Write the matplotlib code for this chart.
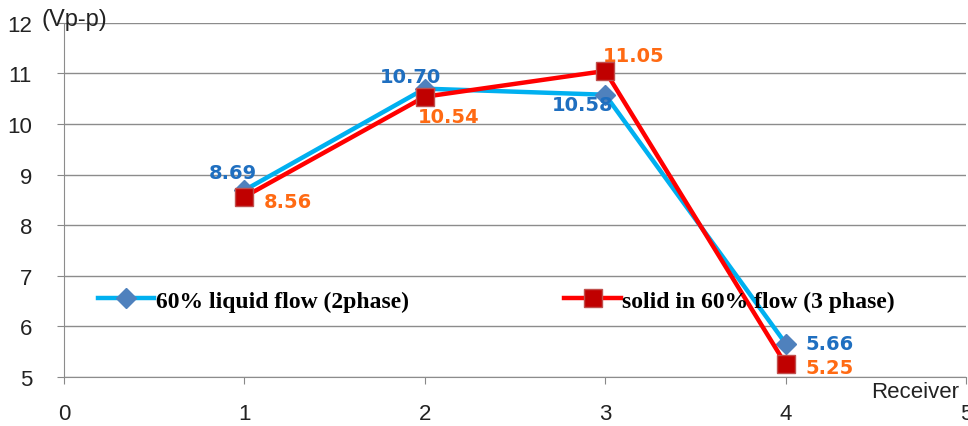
import matplotlib.pyplot as plt

receivers = [1, 2, 3, 4]
liquid_2phase = [8.69, 10.70, 10.58, 5.66]
solid_3phase = [8.56, 10.54, 11.05, 5.25]
series_names = ["60% liquid flow (2phase)", "solid in 60% flow (3 phase)"]

# label offsets in points (dx, dy, ha, va) for each point
liquid_offsets = [(-8, 6, "center", "bottom"), (-10, 2, "center", "bottom"),
                  (-16, -7, "center", "center"), (14, 0, "left", "center")]
solid_offsets = [(14, -3, "left", "center"), (-5, -14, "left", "center"),
                 (-2, 11, "left", "center"), (14, -2, "left", "center")]

plt.rcParams["font.family"] = ["Liberation Sans", "DejaVu Sans"]

fig = plt.figure(figsize=(9.68, 4.27), dpi=100)
ax = fig.add_axes([0.066, 0.115, 0.932, 0.829])

ax.plot(receivers, liquid_2phase, color="#00b0f0", lw=3.2, marker="D", ms=10,
        mfc="#4f81bd", mec="#4f81bd", label=series_names[0], zorder=3)
ax.plot(receivers, solid_3phase, color="#ff0000", lw=3.2, marker="s", ms=13,
        mfc="#c00000", mec="#c0504d", label=series_names[1], zorder=4)

for x, y, (dx, dy, ha, va) in zip(receivers, liquid_2phase, liquid_offsets):
    ax.annotate(f"{y:.2f}", (x, y), xytext=(dx, dy), textcoords="offset points",
                ha=ha, va=va, color="#1f6fc0", fontsize=14, fontweight="bold",
                family="DejaVu Sans")
for x, y, (dx, dy, ha, va) in zip(receivers, solid_3phase, solid_offsets):
    ax.annotate(f"{y:.2f}", (x, y), xytext=(dx, dy), textcoords="offset points",
                ha=ha, va=va, color="#ff6a13", fontsize=14, fontweight="bold",
                family="DejaVu Sans")

ax.set_xlim(0, 5)
ax.set_ylim(5, 12)
ax.set_xticks(range(0, 6))
ax.set_yticks(range(5, 13))
ax.tick_params(axis="both", labelsize=16, colors="#222222", length=5, color="#888888")
ax.tick_params(axis="y", pad=18)
ax.tick_params(axis="x", pad=14)
ax.grid(axis="y", color="#8c8c8c", lw=1)
ax.set_axisbelow(True)
for side in ("top", "right"):
    ax.spines[side].set_visible(False)
for side in ("left", "bottom"):
    ax.spines[side].set_color("#8c8c8c")

ax.text(-0.125, 12.08, "(Vp-p)", fontsize=17, color="#222222", ha="left", va="center")
ax.text(4.96, 4.72, "Receiver", fontsize=16, color="#222222", ha="right", va="center")

ax.legend(loc="center left", bbox_to_anchor=(0.014, 0.215), ncol=2, frameon=False,
          handlelength=2.4, handletextpad=0.05, columnspacing=6.6,
          prop={"family": "Liberation Serif", "weight": "bold", "size": 17})

fig.savefig("out.png", dpi=100)
